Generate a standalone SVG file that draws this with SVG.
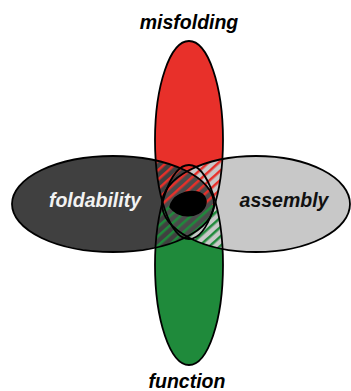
<svg xmlns="http://www.w3.org/2000/svg" width="351" height="391" viewBox="0 0 351 391">
  <style>
    .lbl { font-family: "Liberation Sans", Arial, sans-serif; font-weight: bold; font-style: italic; font-size: 19.5px; text-anchor: middle; }
    .ol { fill: none; stroke: #000; stroke-width: 1.8; }
  </style>
  <defs>
    <pattern id="hatchRed" patternUnits="userSpaceOnUse" width="7" height="7" patternTransform="rotate(-42)">
      <rect x="0" y="0" width="7" height="2.5" fill="#e8302a"/>
    </pattern>
    <pattern id="hatchGreen" patternUnits="userSpaceOnUse" width="7" height="7" patternTransform="rotate(-42)">
      <rect x="0" y="0" width="7" height="2.5" fill="#1f8a3b"/>
    </pattern>
    <clipPath id="clipRed"><ellipse cx="189" cy="140" rx="34" ry="99"/></clipPath>
    <clipPath id="clipGreen"><ellipse cx="189" cy="265" rx="34" ry="100"/></clipPath>
    <clipPath id="clipRight"><ellipse cx="256" cy="204" rx="94" ry="48"/></clipPath>
    <clipPath id="clipHoriz">
      <ellipse cx="113" cy="204" rx="101" ry="48"/>
      <ellipse cx="256" cy="204" rx="94" ry="48"/>
    </clipPath>
    <clipPath id="clipTop"><rect x="0" y="0" width="351" height="205"/></clipPath>
  </defs>
  <rect width="351" height="391" fill="#fff"/>

  <g id="misfolding">
    <ellipse cx="189" cy="140" rx="34" ry="99" fill="#e8302a"/>
    <text class="lbl" x="189" y="29">misfolding</text>
  </g>
  <g id="function">
    <ellipse cx="189" cy="265" rx="34" ry="100" fill="#1f8a3b"/>
    <ellipse cx="189" cy="140" rx="34" ry="99" fill="#e8302a" clip-path="url(#clipTop)"/>
    <text class="lbl" x="187" y="388">function</text>
  </g>
  <g id="assembly">
    <ellipse cx="256" cy="204" rx="94" ry="48" fill="#c8c8c8"/>
  </g>
  <g id="foldability">
    <ellipse cx="113" cy="204" rx="101" ry="48" fill="#404040"/>
    <ellipse cx="113" cy="204" rx="101" ry="48" fill="#4b4b4b" clip-path="url(#clipRight)"/>
  </g>

  <g id="hatching">
    <g clip-path="url(#clipRed)">
      <rect x="140" y="140" width="100" height="65" fill="url(#hatchRed)" clip-path="url(#clipHoriz)"/>
    </g>
    <g clip-path="url(#clipGreen)">
      <rect x="140" y="205" width="100" height="60" fill="url(#hatchGreen)" clip-path="url(#clipHoriz)"/>
    </g>
  </g>

  <g id="outlines">
    <ellipse class="ol" cx="189" cy="140" rx="34" ry="99"/>
    <ellipse class="ol" cx="189" cy="265" rx="34" ry="100"/>
    <ellipse class="ol" cx="113" cy="204" rx="101" ry="48"/>
    <ellipse class="ol" cx="256" cy="204" rx="94" ry="48"/>
  </g>

  <g id="core">
    <path d="M170,207 C172,196 185,190 197,192 C206,194 208,202 204,208 C198,217 180,220 170,207 Z" fill="#000" stroke="#000" stroke-width="1.5"/>
  </g>

  <g id="labels">
    <text class="lbl" x="95" y="207" fill="#f2f2f2">foldability</text>
    <text class="lbl" x="284" y="207" fill="#111">assembly</text>
  </g>
</svg>
